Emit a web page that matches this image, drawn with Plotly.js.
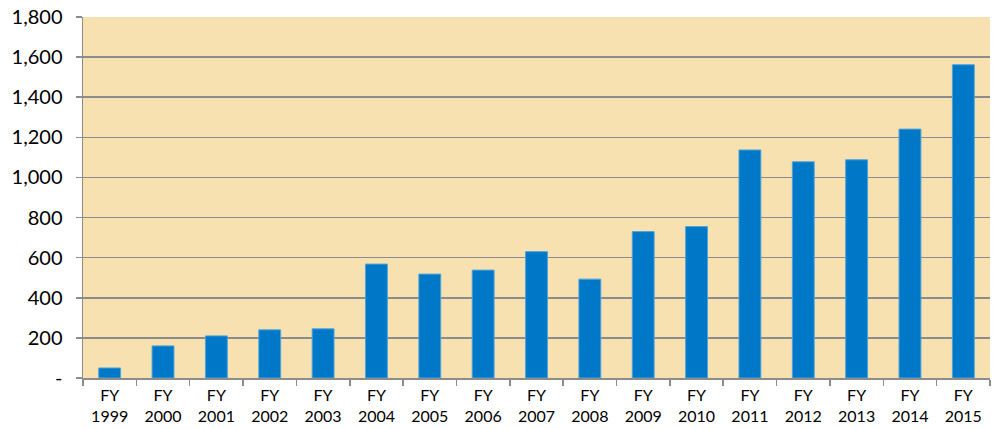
<!DOCTYPE html>
<html>
<head>
<meta charset="utf-8">
<script src="https://cdn.plot.ly/plotly-3.0.1.min.js"></script>
<style>html,body{margin:0;padding:0;background:#fff;}#chart{width:1000px;height:429px;}</style>
</head>
<body>
<div id="chart"></div>
<script>
const categories = ["FY<br>1999","FY<br>2000","FY<br>2001","FY<br>2002","FY<br>2003","FY<br>2004","FY<br>2005","FY<br>2006","FY<br>2007","FY<br>2008","FY<br>2009","FY<br>2010","FY<br>2011","FY<br>2012","FY<br>2013","FY<br>2014","FY<br>2015"];
const values = [50, 160, 210, 240, 245, 568, 518, 538, 630, 493, 730, 755, 1137, 1078, 1088, 1241, 1562];
const yTickVals = [0, 200, 400, 600, 800, 1000, 1200, 1400, 1600, 1800];
const yTickText = ["-", "200", "400", "600", "800", "1,000", "1,200", "1,400", "1,600", "1,800"];

const trace = {
  type: "bar",
  x: categories,
  y: values,
  marker: {color: "#0078C8", line: {color: "#4FA3DA", width: 1}},
  hoverinfo: "none"
};
const layout = {
  width: 1000, height: 429,
  margin: {l: 83, r: 10, t: 17, b: 51},
  paper_bgcolor: "#ffffff",
  plot_bgcolor: "#F7E1B0",
  showlegend: false,
  bargap: 0.59,
  font: {family: "Lato, 'Open Sans', sans-serif", color: "#000"},
  xaxis: {
    type: "category",
    showgrid: false,
    showline: true, linecolor: "#8c8c8c", linewidth: 1.5,
    ticks: "outside", tickson: "boundaries", ticklen: 6, tickcolor: "#8c8c8c", tickwidth: 1.5,
    tickfont: {size: 16, family: "Lato, 'Open Sans', sans-serif"},
    tickangle: 0,
    ticklabelstandoff: 2,
    fixedrange: true
  },
  yaxis: {
    range: [0, 1800],
    tickvals: yTickVals, ticktext: yTickText,
    showgrid: true, gridcolor: "#8c8c8c", gridwidth: 1.5,
    zeroline: false,
    showline: true, linecolor: "#8c8c8c", linewidth: 1.5,
    ticks: "outside", ticklen: 6, tickcolor: "#8c8c8c", tickwidth: 1.5,
    tickfont: {size: 20, family: "Lato, 'Open Sans', sans-serif"},
    ticklabelstandoff: 9,
    fixedrange: true
  }
};
Plotly.newPlot("chart", [trace], layout, {displayModeBar: false, staticPlot: true});
</script>
</body>
</html>
